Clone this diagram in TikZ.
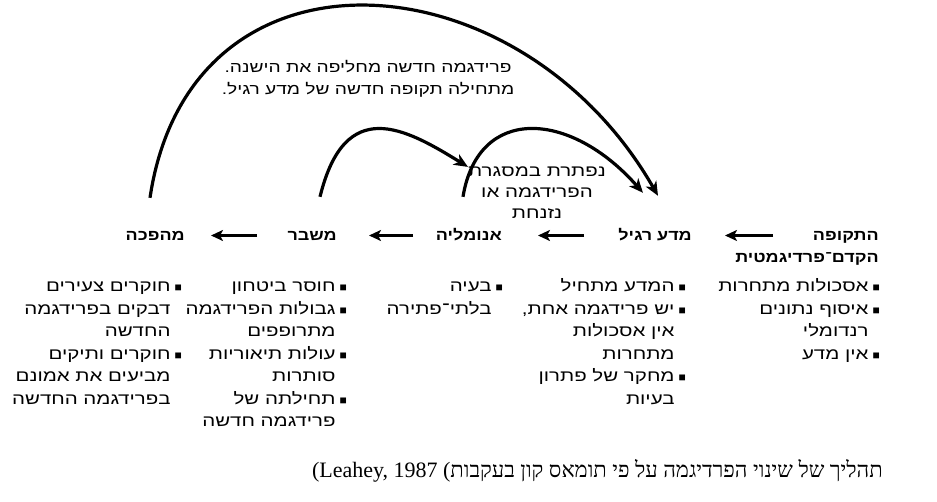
\documentclass[tikz,border=0pt]{standalone}
\usepackage{fontspec}
\setmainfont{Liberation Sans}
\newfontfamily\heb[Script=Hebrew,FakeStretch=1.28]{Liberation Sans}
\newfontfamily\hebhead[Script=Hebrew,FakeStretch=1.2]{Liberation Sans}
\newfontfamily\hebserif[Script=Hebrew]{Liberation Serif}
\newfontfamily\latserif{Liberation Serif}
\TeXXeTstate=1
\usetikzlibrary{arrows.meta}
% one right-to-left line, bullet line, continuation line
\newcommand{\rl}[1]{\beginR\strut #1\endR}
\newcommand{\bul}{{\rmfamily\fontsize{12}{12}\selectfont ■}\hspace{4pt}}
\newcommand{\itm}[1]{\rl{\bul #1}}
\newcommand{\cnt}[1]{\rl{\phantom{\bul}#1}}
\tikzstyle{head} = [font=\hebhead\bfseries\fontsize{15}{18}\selectfont, anchor=base east, inner sep=0pt, text height=11pt, text depth=0pt]
\tikzstyle{items} = [font=\heb\fontsize{16}{22.5}\selectfont, align=right, anchor=north east, inner sep=0pt]
\tikzstyle{note} = [font=\heb\fontsize{15}{22}\selectfont, align=center, inner sep=0pt]
\tikzstyle{arrow} = [line width=3pt,-{Stealth[length=12pt,width=11pt,inset=3pt]}]
\tikzstyle{arc} = [line width=3.2pt,-{Stealth[length=14pt,width=12pt,inset=4pt]}]
\begin{document}
\begin{tikzpicture}[x=1pt,y=-1pt]
\useasboundingbox (0,0) rectangle (937,502);
% stage titles
\node (pre) [head] at (879,241) {\beginR התקופה\endR};
\node (pre2) [head] at (879,263) {\beginR הקדם־פרדיגמטית\endR};
\node (normal) [head] at (692,241) {\beginR מדע רגיל\endR};
\node (anomaly) [head] at (502,241) {\beginR אנומליה\endR};
\node (crisis) [head] at (337,241) {\beginR משבר\endR};
\node (revolution) [head] at (185,241) {\beginR מהפכה\endR};
% lists
\node (prelist) [items] at (880,276) {\itm{אסכולות מתחרות}\\ \itm{איסוף נתונים}\\ \cnt{רנדומלי}\\ \itm{אין מדע}};
\node (normallist) [items] at (686,276) {\itm{המדע מתחיל}\\ \itm{יש פרידגמה אחת,}\\ \cnt{אין אסכולות}\\ \cnt{מתחרות}\\ \itm{מחקר של פתרון}\\ \cnt{בעיות}};
\node (anomalylist) [items] at (503,276) {\itm{בעיה}\\ \cnt{בלתי־פתירה}};
\node (crisislist) [items] at (347,276) {\itm{חוסר ביטחון}\\ \itm{גבולות הפרידגמה}\\ \cnt{מתרופפים}\\ \itm{עולות תיאוריות}\\ \cnt{סותרות}\\ \itm{תחילתה של}\\ \cnt{פרידגמה חדשה}};
\node (revolutionlist) [items] at (182,276) {\itm{חוקרים צעירים}\\ \cnt{דבקים בפרידגמה}\\ \cnt{החדשה}\\ \itm{חוקרים ותיקים}\\ \cnt{מביעים את אמונם}\\ \cnt{בפרידגמה החדשה}};
% notes on the arcs
\node (newnote) [note] at (368,79) {\beginR פרידגמה חדשה מחליפה את הישנה.\endR\\ \beginR מתחילה תקופה חדשה של מדע רגיל.\endR};
\node (solvednote) [note, font=\heb\fontsize{16}{21}\selectfont] at (537,193) {\beginR נפתרת במסגרת\endR\\ \beginR הפרידגמה או\endR\\ \beginR נזנחת\endR};
% caption
\node (caption) [font=\fontsize{22}{24}\selectfont, anchor=base east, inner sep=0pt] at (883,477) {{\latserif (Leahey, 1987 (}{\hebserif\beginR תהליך של שינוי הפרדיגמה על פי תומאס קון בעקבות\endR}};
% arrows between stages
\draw [arrow, shorten >=33pt] ([xshift=-106pt]pre.east) -- (normal.east);
\draw [arrow, shorten >=36pt] ([xshift=-108pt]normal.east) -- (anomaly.east);
\draw [arrow, shorten >=32pt] ([xshift=-89pt]anomaly.east) -- (crisis.east);
\draw [arrow, shorten >=26pt] ([xshift=-80pt]crisis.east) -- (revolution.east);
% arcs
\draw [arc] ([xshift=-35pt,yshift=32pt]revolution.north east) .. controls (190,-70) and (520,-45) .. ([xshift=-34pt,yshift=34pt]normal.north east);
\draw [arc] ([xshift=-17pt,yshift=33pt]crisis.north east) .. controls (345,95) and (405,128) .. (solvednote.north west);
\draw [arc] ([xshift=-39pt,yshift=33pt]anomaly.north east) .. controls (478,105) and (570,110) .. ([xshift=-49pt,yshift=37pt]normal.north east);
\end{tikzpicture}
\end{document}
